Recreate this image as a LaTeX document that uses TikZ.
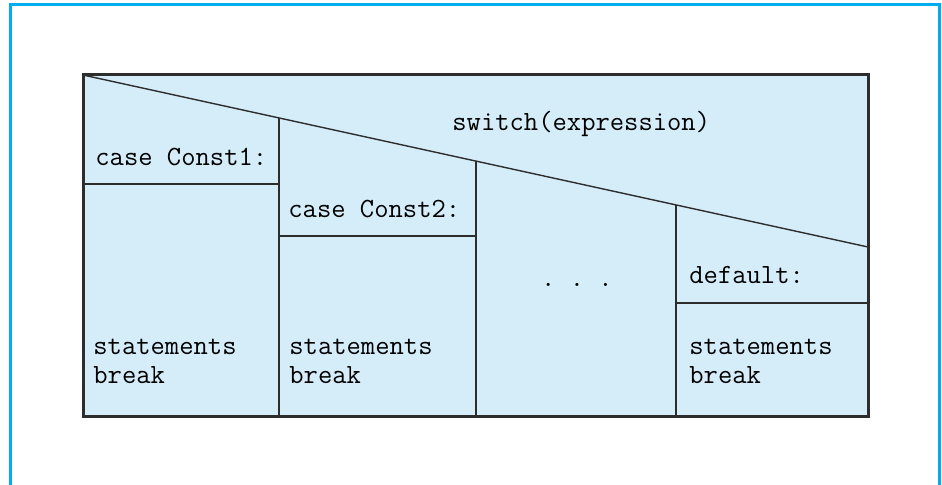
\documentclass[tikz,border=0pt]{standalone}
\definecolor{framecyan}{RGB}{0,174,239}
\definecolor{boxblue}{RGB}{212,237,249}
\definecolor{linegray}{RGB}{45,45,45}
\begin{document}
\begin{tikzpicture}
  [x=0.5pt,y=-0.5pt
  ,txt/.style={anchor=base west,inner sep=0pt,align=left,
               font=\ttfamily\fontsize{13.9}{14.5}\selectfont}
  ,cell/.style={draw=linegray,line width=0.7pt}
  ,outline/.style={draw=linegray,line width=1.5pt}
  ]
\useasboundingbox (0,0) rectangle (942,485);
\draw [framecyan,line width=1.5pt] (10.5,500) -- (10.5,4.5) -- (939.5,4.5) -- (939.5,500);
%
\coordinate (tl) at (83,75);
\coordinate (br) at (868,417);
\coordinate (d0) at (868,247);
\coordinate (d1) at (279,118);
\coordinate (d2) at (476,161);
\coordinate (d3) at (676,205);
\fill [boxblue] (tl) rectangle (br);
%
\draw [cell] (tl) -- (d0);
\draw [cell] (d1) -- (d1 |- br);
\draw [cell] (d2) -- (d2 |- br);
\draw [cell] (d3) -- (d3 |- br);
\draw [cell] (83,184) -- (279,184);
\draw [cell] (279,236) -- (476,236);
\draw [cell] (676,303) -- (868,303);
\draw [outline] (tl) rectangle (br);
%
\node at (452,131) (sw) [txt] {switch(expression)};
\node at (95,166) (c1) [txt] {case Const1:};
\node at (288,218) (c2) [txt] {case Const2:};
\node at (577,287) (dots) [txt,anchor=base] {.\ .\ .};
\node at (689,284) (df) [txt] {default:};
\node at (93,384) (s1) [txt] {statements\\break};
\node at (289,384) (s2) [txt] {statements\\break};
\node at (689,384) (s3) [txt] {statements\\break};
\end{tikzpicture}
\end{document}
